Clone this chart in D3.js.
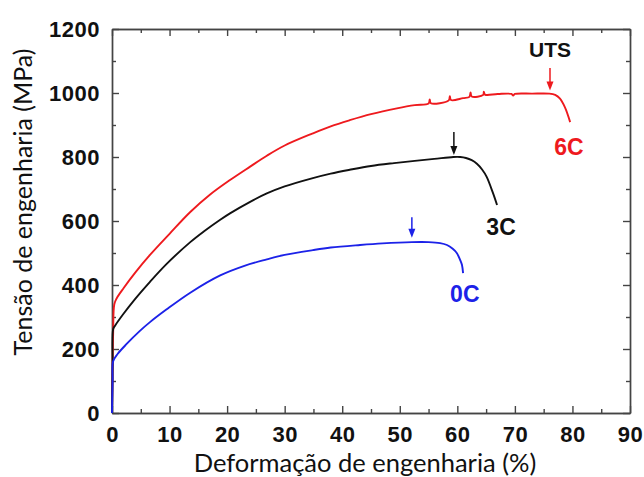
<!DOCTYPE html>
<html>
<head>
<meta charset="utf-8">
<script src="https://cdn.jsdelivr.net/npm/d3@7"></script>
<style>
  body { margin: 0; background: #fff; }
  svg { display: block; }
  .tick text { font-family: "Liberation Sans", Arial, sans-serif; font-weight: bold; font-size: 22px; fill: #111; }
  .tick line, .domain { stroke: #444; stroke-width: 1.4; }
</style>
</head>
<body>
<svg id="chart" width="644" height="477"></svg>
<script>
// curves: [strain %, stress MPa]
const curve6C = [[0,0],[0.2,250],[0.4,340],[0.8,358],[2,390],[4,438],[6.6,494],[10,560],[13.6,628],[17,682],[20.5,728],
  [24,770],[26.9,804],[30,836],[34.9,874],[38,896],[41.3,915],[45,934],[49.5,952],[52.6,962],[55,967],
  [55.2,980],[55.4,968],[58.5,977],[58.7,990],[58.9,978],[61,984],[62.1,988],[62.3,1002],[62.5,989],[64.5,994],
  [64.6,1004],[64.8,995],[67,997],[69.4,997],[69.7,992],[70,997],[73,998],[76,998],[77,994],[77.8,983],[78.7,955],[79.6,909]];
const curve3C = [[0,0],[0.1,150],[0.2,262],[0.5,272],[2,310],[4,356],[6.6,410],[9.5,466],[13.6,534],[16,568],[18.8,604],
  [20.5,624],[24,660],[26.9,686],[30,708],[34.9,734],[38,748],[41.3,760],[45,772],[49,781],[52.6,788],[56,794],
  [59.3,800],[60.5,800],[61.5,797],[62.5,790],[63.4,779],[64.3,761],[65.1,738],[66.2,687],[66.9,650]];
const curve0C = [[0,0],[0.1,100],[0.2,162],[1,185],[2.5,215],[4.8,256],[6.6,284],[9.5,324],[13.6,376],[18.8,430],
  [23,460],[26.9,480],[30,494],[34.9,509],[38,517],[43.1,525],[47,530],[52.1,534],[55,534],[57,531],[58.2,525],
  [59.2,513],[59.9,500],[60.5,478],[60.8,463],[61,437]];

const seriesNames = ['6C', '3C', '0C'];
const seriesColors = ['#ee1a1e', '#111111', '#1c22e8'];
const seriesData = [curve6C, curve3C, curve0C];

// UTS arrows: strain, tail stress, tip stress
const arrowStrain = [76.1, 59.4, 52.1];
const arrowTail = [1078, 878, 612];
const arrowTip = [1008, 806, 548];

// curve labels: strain (centre), stress (baseline)
const labelStrain = [79.4, 67.6, 61.3];
const labelStress = [806, 556, 347];
const utsLabel = { text: 'UTS', strain: 76.1, stress: 1111 };

const xTicks = d3.range(0, 91, 10);
const xMinor = d3.range(5, 90, 10);
const yTicks = d3.range(0, 1201, 200);
const yMinor = d3.range(100, 1200, 200);

const margin = { top: 29, right: 14, bottom: 64, left: 112 };
const width = 644, height = 477;
const innerW = width - margin.left - margin.right;
const innerH = height - margin.top - margin.bottom;

const svg = d3.select('#chart');
const chart = svg.append('g').attr('transform', `translate(${margin.left},${margin.top})`);

const x = d3.scaleLinear().domain([0, 90]).range([0, innerW]);
const y = d3.scaleLinear().domain([0, 1200]).range([innerH, 0]);
const fmt = d3.format('d');

// axes with inward ticks on all four sides
chart.append('g').attr('transform', `translate(0,${innerH})`)
  .call(d3.axisBottom(x).tickValues(xTicks).tickSize(-7).tickSizeOuter(0).tickPadding(13).tickFormat(fmt));
chart.append('g').attr('transform', `translate(0,${innerH})`)
  .call(d3.axisBottom(x).tickValues(xMinor).tickSize(-4).tickSizeOuter(0).tickFormat(''));
chart.append('g')
  .call(d3.axisTop(x).tickValues(xTicks).tickSize(-7).tickSizeOuter(0).tickFormat(''));
chart.append('g')
  .call(d3.axisTop(x).tickValues(xMinor).tickSize(-4).tickSizeOuter(0).tickFormat(''));
chart.append('g')
  .call(d3.axisLeft(y).tickValues(yTicks).tickSize(-7).tickSizeOuter(0).tickPadding(12).tickFormat(fmt));
chart.append('g')
  .call(d3.axisLeft(y).tickValues(yMinor).tickSize(-4).tickSizeOuter(0).tickFormat(''));
chart.append('g').attr('transform', `translate(${innerW},0)`)
  .call(d3.axisRight(y).tickValues(yTicks).tickSize(-7).tickSizeOuter(0).tickFormat(''));
chart.append('g').attr('transform', `translate(${innerW},0)`)
  .call(d3.axisRight(y).tickValues(yMinor).tickSize(-4).tickSizeOuter(0).tickFormat(''));

chart.selectAll('.tick text').attr('letter-spacing', '0.5px');

// curves
const line = d3.line()
  .x(d => x(d[0]))
  .y(d => y(d[1]))
  .curve(d3.curveCatmullRom.alpha(0.5));

chart.selectAll('.curve')
  .data(seriesData)
  .join('path')
  .attr('class', 'curve')
  .attr('fill', 'none')
  .attr('stroke', (d, i) => seriesColors[i])
  .attr('stroke-width', 1.9)
  .attr('stroke-linejoin', 'round')
  .attr('d', line);

// UTS arrows
const arrows = chart.selectAll('.arrow')
  .data(arrowStrain)
  .join('g')
  .attr('class', 'arrow');
arrows.append('line')
  .attr('x1', d => x(d)).attr('x2', d => x(d))
  .attr('y1', (d, i) => y(arrowTail[i]))
  .attr('y2', (d, i) => y(arrowTip[i]) - 4)
  .attr('stroke', (d, i) => seriesColors[i])
  .attr('stroke-width', 1.5);
arrows.append('path')
  .attr('d', (d, i) => {
    const px = x(d), py = y(arrowTip[i]);
    return `M${px - 3.5},${py - 9} L${px + 3.5},${py - 9} L${px},${py} Z`;
  })
  .attr('fill', (d, i) => seriesColors[i]);

// labels
const labelFont = '"Liberation Sans", Arial, sans-serif';
chart.selectAll('.curve-label')
  .data(seriesNames)
  .join('text')
  .attr('class', 'curve-label')
  .attr('x', (d, i) => x(labelStrain[i]))
  .attr('y', (d, i) => y(labelStress[i]))
  .attr('text-anchor', 'middle')
  .attr('font-family', labelFont)
  .attr('font-weight', 'bold')
  .attr('font-size', '23px')
  .attr('fill', (d, i) => seriesColors[i])
  .text(d => d);

chart.append('text')
  .attr('x', x(utsLabel.strain))
  .attr('y', y(utsLabel.stress))
  .attr('text-anchor', 'middle')
  .attr('font-family', labelFont)
  .attr('font-weight', 'bold')
  .attr('font-size', '21px')
  .attr('fill', '#111')
  .text(utsLabel.text);

// axis titles
const titleFont = 'Lato, "Open Sans", sans-serif';
svg.append('text')
  .attr('x', 365)
  .attr('y', 472)
  .attr('text-anchor', 'middle')
  .attr('font-family', titleFont)
  .attr('font-size', '25.5px')
  .attr('fill', '#111')
  .text('Deformação de engenharia (%)');

svg.append('text')
  .attr('transform', 'translate(32,202) rotate(-90)')
  .attr('text-anchor', 'middle')
  .attr('font-family', titleFont)
  .attr('font-size', '25px')
  .attr('fill', '#111')
  .text('Tensão de engenharia (MPa)');
</script>
</body>
</html>
